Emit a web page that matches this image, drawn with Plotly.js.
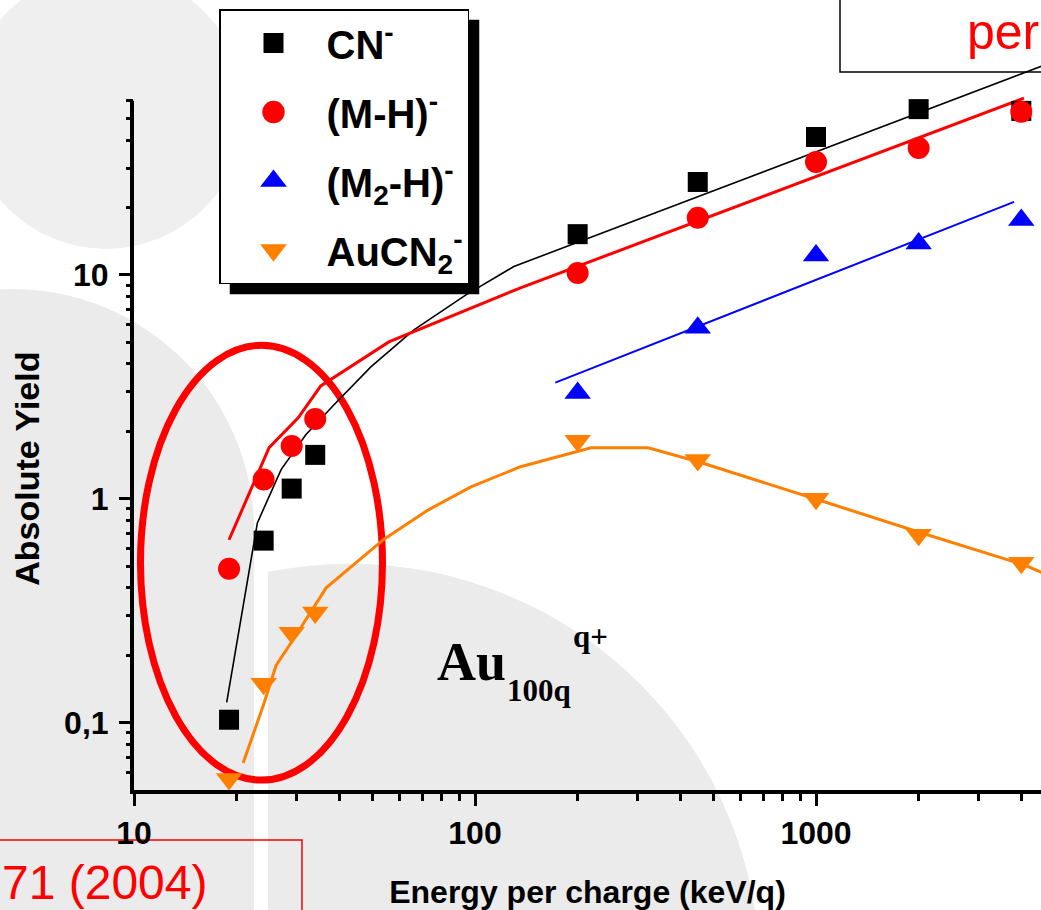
<!DOCTYPE html>
<html>
<head>
<meta charset="utf-8">
<script src="https://cdn.plot.ly/plotly-3.0.1.min.js"></script>
<style>
  html, body { margin: 0; padding: 0; background: #ffffff; }
  #chart { width: 1041px; height: 910px; }
</style>
</head>
<body>
<div id="chart"></div>
<script>
// ---------------- data ----------------
const energy      = [19, 24, 29, 34, 200, 450, 1000, 2000, 4000];          // keV/q
const cnYield     = [0.103, 0.65, 1.11, 1.57, 15.2, 26.0, 41.3, 55, 54];
const mhYield     = [0.487, 1.22, 1.72, 2.27, 10.2, 18.0, 31.9, 36.9, 53.5];
const m2hEnergy   = [200, 450, 1000, 2000, 4000];
const m2hYield    = [2.97, 5.8, 12.2, 13.8, 17.6];
const aucnYield   = [0.056, 0.149, 0.252, 0.31, 1.815, 1.49, 1.0, 0.69, 0.518];

// model / fit curves
const cnFitE   = [18.7, 23.0, 27.0, 31.9, 38.6, 49.5, 66.2, 94.1, 130, 4600];
const cnFitY   = [0.123, 0.78, 1.35, 1.93, 2.63, 3.88, 5.68, 8.14, 10.9, 85.7];
const mhFitE   = [19.0, 24.9, 30.3, 35.3, 55.9, 136, 4070];
const mhFitY   = [0.656, 1.69, 2.30, 3.19, 5.02, 8.75, 61.6];
const m2hFitE  = [172, 3810];
const m2hFitY  = [3.30, 21.2];
const aucnFitE = [20.9, 24.1, 26.1, 29.3, 36.6, 44.2, 54.1, 72.8, 97.3, 136, 198, 219, 322, 454, 1013, 2030, 4070, 4600];
const aucnFitY = [0.066, 0.123, 0.18, 0.235, 0.40, 0.51, 0.66, 0.89, 1.13, 1.39, 1.62, 1.69, 1.69, 1.46, 0.99, 0.705, 0.507, 0.468];

const seriesNames = ['CN<sup>-</sup>', '(M-H)<sup>-</sup>', '(M<sub>2</sub>-H)<sup>-</sup>', 'AuCN<sub>2</sub><sup>-</sup>'];
const xTickVals = [10, 100, 1000];
const xTickText = ['10', '100', '1000'];
const yTickVals = [0.1, 1, 10];
const yTickText = ['0,1', '1', '10'];
const xMinor = [20, 30, 40, 50, 60, 70, 80, 90, 200, 300, 400, 500, 600, 700, 800, 900, 2000, 3000, 4000];
const yMinor = [0.06, 0.07, 0.08, 0.09, 0.2, 0.3, 0.4, 0.5, 0.6, 0.7, 0.8, 0.9, 2, 3, 4, 5, 6, 7, 8, 9, 20, 30, 40, 50, 60];
const yAxisTop = 60;      // the drawn y axis ends at 60
const yRangeTop = 100;    // room above for the curves that run past the axis end

// ---------------- layout helpers (pixel -> paper) ----------------
const DEC = 224;                         // pixels per decade (y)
const L = 134, R = 1041, B = 790.4;
const T = B - DEC * (Math.log10(yRangeTop) - Math.log10(0.05));
const px = x => (x - L) / (R - L);
const py = y => (B - y) / (B - T);
const yAxisTopPx = B - DEC * (Math.log10(yAxisTop) - Math.log10(0.05));

const SANS = 'Liberation Sans, Arial, sans-serif';
const SERIF = 'Liberation Serif, Times New Roman, serif';
const GRAY = '#ebebeb';

const traces = [
  // fit lines (under markers)
  {x: cnFitE, y: cnFitY, mode: 'lines', line: {color: '#000000', width: 1.6}, showlegend: false, hoverinfo: 'skip'},
  {x: mhFitE, y: mhFitY, mode: 'lines', line: {color: '#ff0000', width: 3}, showlegend: false, hoverinfo: 'skip'},
  {x: m2hFitE, y: m2hFitY, mode: 'lines', line: {color: '#0000ff', width: 2}, showlegend: false, hoverinfo: 'skip'},
  {x: aucnFitE, y: aucnFitY, mode: 'lines', line: {color: '#ff8000', width: 3}, showlegend: false, hoverinfo: 'skip'},
  // measured points
  {x: energy, y: cnYield, name: seriesNames[0], mode: 'markers', cliponaxis: false,
   marker: {symbol: 'square', size: 20, color: '#000000', line: {width: 0}}, legendgroup: 'a'},
  {x: energy, y: mhYield, name: seriesNames[1], mode: 'markers', cliponaxis: false,
   marker: {symbol: 'circle', size: 22, color: '#ff0000', line: {width: 0}}, legendgroup: 'b'},
  {x: m2hEnergy, y: m2hYield, name: seriesNames[2], mode: 'markers', cliponaxis: false,
   marker: {symbol: 'triangle-up', size: 23, color: '#0000ff', line: {width: 0}}, legendgroup: 'c'},
  {x: energy, y: aucnYield, name: seriesNames[3], mode: 'markers', cliponaxis: false,
   marker: {symbol: 'triangle-down', size: 23, color: '#ff8000', line: {width: 0}}, legendgroup: 'd'}
];

const shapes = [
  // background decoration
  {type: 'circle', xref: 'paper', yref: 'paper', x0: px(-33), x1: px(245), y0: py(249), y1: py(-29),
   fillcolor: '#efefef', line: {width: 0}, layer: 'below'},
  {type: 'circle', xref: 'paper', yref: 'paper', x0: px(-60), x1: px(760), y0: py(1384), y1: py(564),
   fillcolor: GRAY, line: {width: 0}, layer: 'below'},
  {type: 'rect', xref: 'paper', yref: 'paper', x0: px(-10), x1: px(268), y0: py(920), y1: py(540),
   fillcolor: '#ffffff', line: {width: 0}, layer: 'below'},
  {type: 'circle', xref: 'paper', yref: 'paper', x0: px(-230), x1: px(254), y0: py(773), y1: py(289),
   fillcolor: GRAY, line: {width: 0}, layer: 'below'},
  {type: 'rect', xref: 'paper', yref: 'paper', x0: px(-10), x1: px(254), y0: py(920), y1: py(531),
   fillcolor: GRAY, line: {width: 0}, layer: 'below'},
  // highlight ellipse
  {type: 'circle', xref: 'paper', yref: 'paper', x0: px(140.5), x1: px(382.5), y0: py(780.5), y1: py(345.5),
   line: {color: '#ff0000', width: 7}, layer: 'below'},
  // text boxes
  {type: 'rect', xref: 'paper', yref: 'paper', x0: px(840), x1: px(1060), y0: py(72), y1: py(-10),
   line: {color: '#000000', width: 1.5}, layer: 'below'},
  {type: 'rect', xref: 'paper', yref: 'paper', x0: px(-10), x1: px(302), y0: py(920), y1: py(840.5),
   line: {color: '#ff0000', width: 1.5}, layer: 'below'},
  // y axis line (ends at 60, curves may run above it)
  {type: 'line', xref: 'paper', yref: 'paper', x0: px(132), x1: px(132), y0: py(794.4), y1: py(yAxisTopPx),
   line: {color: '#000000', width: 4}, layer: 'above'},
  // legend shadow (re-fitted to the legend box after drawing)
  {type: 'rect', xref: 'paper', yref: 'paper', x0: px(229), x1: px(483), y0: py(295), y1: py(19),
   fillcolor: '#000000', line: {width: 0}, layer: 'above'}
];
const SHADOW = shapes.length - 1;

const annotations = [
  {xref: 'paper', yref: 'paper', x: px(27), y: py(469), xanchor: 'center', yanchor: 'middle', showarrow: false,
   textangle: -90, text: 'Absolute Yield', font: {family: SANS, size: 34, weight: 'bold', color: '#000000'}},
  {xref: 'paper', yref: 'paper', x: px(435), y: py(662), xanchor: 'left', yanchor: 'middle', showarrow: false,
   text: 'Au', font: {family: SERIF, size: 54, weight: 'bold', color: '#000000'}},
  {xref: 'paper', yref: 'paper', x: px(505), y: py(691), xanchor: 'left', yanchor: 'middle', showarrow: false,
   text: '100q', font: {family: SERIF, size: 31, weight: 'bold', color: '#000000'}},
  {xref: 'paper', yref: 'paper', x: px(571), y: py(637), xanchor: 'left', yanchor: 'middle', showarrow: false,
   text: 'q+', font: {family: SERIF, size: 31, weight: 'bold', color: '#000000'}},
  {xref: 'paper', yref: 'paper', x: px(965), y: py(32), xanchor: 'left', yanchor: 'middle', showarrow: false,
   text: 'per', font: {family: SANS, size: 50, color: '#ff0000'}},
  {xref: 'paper', yref: 'paper', x: px(1), y: py(883), xanchor: 'left', yanchor: 'middle', showarrow: false,
   borderpad: 0, text: '71 (2004)', font: {family: SANS, size: 48, color: '#ff0000'}}
];

const layout = {
  width: 1041, height: 910,
  margin: {l: L, r: 1041 - R, t: T, b: 910 - B, pad: 0},
  paper_bgcolor: '#ffffff',
  plot_bgcolor: 'rgba(0,0,0,0)',
  showlegend: true,
  legend: {
    x: px(219), y: py(9), xanchor: 'left', yanchor: 'top',
    bgcolor: '#ffffff', bordercolor: '#000000', borderwidth: 1.5,
    font: {family: SANS, size: 40, weight: 'bold', color: '#000000'},
    traceorder: 'grouped', tracegroupgap: 14, itemwidth: 96
  },
  xaxis: {
    type: 'log', range: [1, 1 + (R - L) / 341],
    showline: true, linecolor: '#000000', linewidth: 4, mirror: false,
    ticks: 'outside', ticklen: 12, tickwidth: 3, tickcolor: '#000000',
    tickmode: 'array', tickvals: xTickVals, ticktext: xTickText,
    tickfont: {family: SANS, size: 32, weight: 'bold', color: '#000000'},
    minor: {tickmode: 'array', tickvals: xMinor, ticks: 'outside', ticklen: 7, tickwidth: 3, tickcolor: '#000000', showgrid: false},
    showgrid: false, zeroline: false,
    title: {text: 'Energy per charge (keV/q)', standoff: 33,
            font: {family: SANS, size: 32, weight: 'bold', color: '#000000'}}
  },
  yaxis: {
    type: 'log', range: [Math.log10(0.05), Math.log10(yRangeTop)],
    showline: false,
    ticks: 'outside', ticklen: 14, tickwidth: 3, tickcolor: '#000000',
    tickmode: 'array', tickvals: yTickVals, ticktext: yTickText,
    tickfont: {family: SANS, size: 32, weight: 'bold', color: '#000000'},
    ticklabelstandoff: 4,
    minor: {tickmode: 'array', tickvals: yMinor, ticks: 'outside', ticklen: 7, tickwidth: 3, tickcolor: '#000000', showgrid: false},
    showgrid: false, zeroline: false
  },
  shapes: shapes,
  annotations: annotations
};

Plotly.newPlot('chart', traces, layout, {staticPlot: true, displayModeBar: false}).then(gd => {
  // fit the drop shadow to the legend box actually drawn
  const bg = gd.querySelector('.legend .bg');
  if (!bg) return gd;
  const r = bg.getBoundingClientRect();
  const c = gd.getBoundingClientRect();
  const upd = {};
  upd['shapes[' + SHADOW + '].x0'] = px(r.left - c.left + 10);
  upd['shapes[' + SHADOW + '].x1'] = px(r.right - c.left + 11);
  upd['shapes[' + SHADOW + '].y1'] = py(r.top - c.top + 10);
  upd['shapes[' + SHADOW + '].y0'] = py(r.bottom - c.top + 11);
  return Plotly.relayout(gd, upd);
}).then(gd => {
  // enlarge legend symbols to the size used in the figure
  const scales = [1.25, 1.4, 1.45, 1.45];
  gd.querySelectorAll('.legend .traces').forEach((g, i) => {
    g.querySelectorAll('.legendpoints path').forEach(p => {
      const t = p.getAttribute('transform') || '';
      p.setAttribute('transform', t + ' scale(' + (scales[i] || 1.3) + ')');
    });
  });
});
</script>
</body>
</html>
